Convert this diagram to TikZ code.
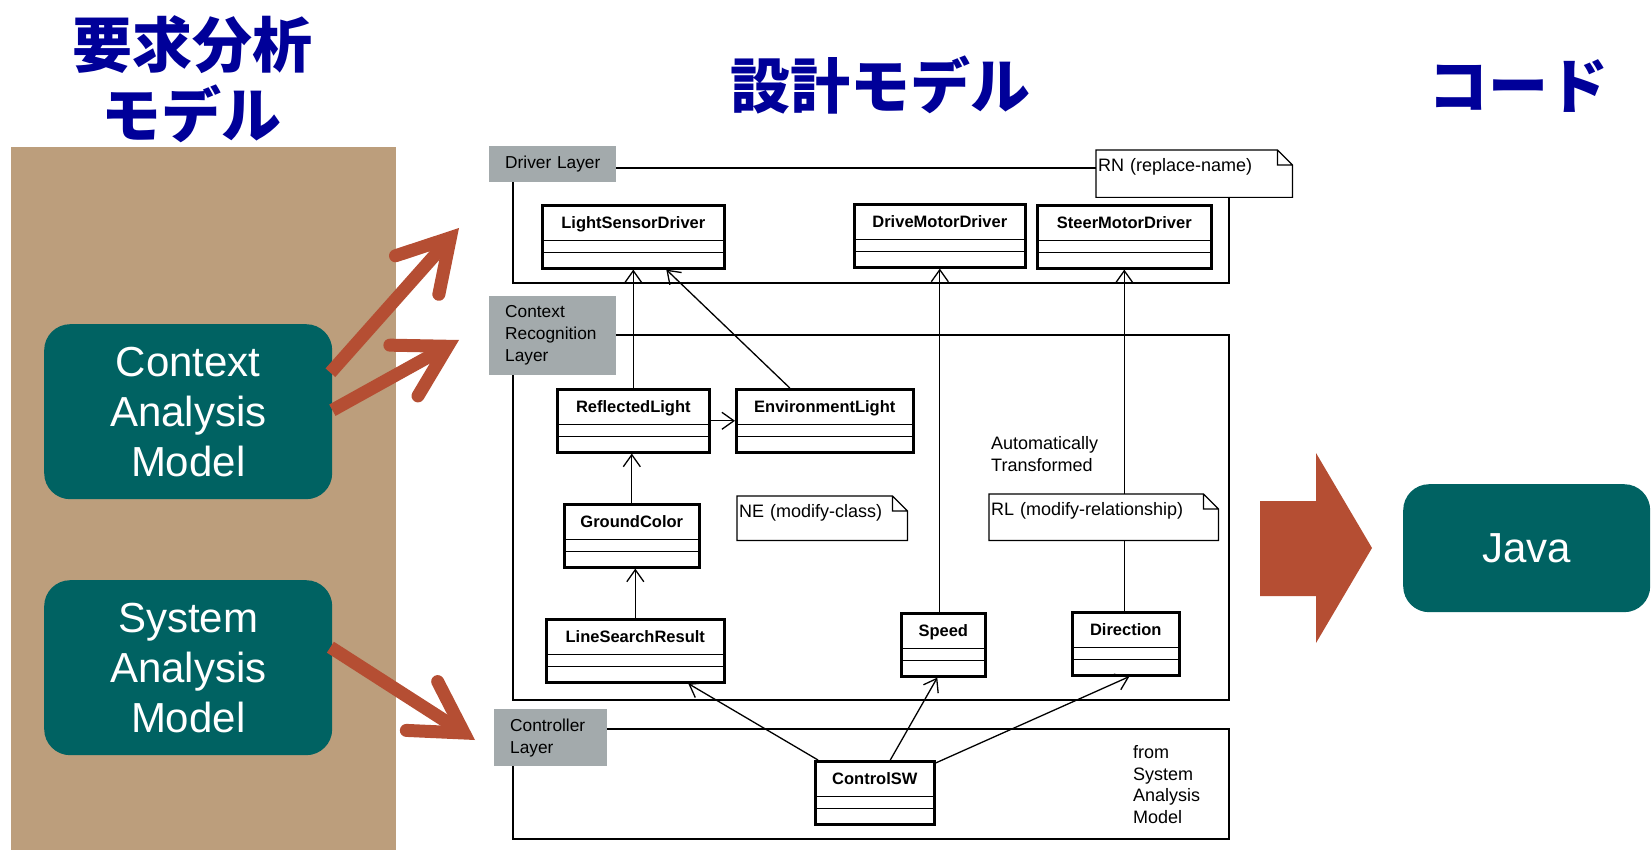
\documentclass[tikz,border=0pt]{standalone}
\usepackage{fontspec}
\setmainfont{Liberation Sans}
\newfontfamily\cjk{Noto Sans CJK JP}
\usetikzlibrary{arrows.meta,calc}

\definecolor{tanbg}{RGB}{188,158,124}
\definecolor{tealbox}{RGB}{0,98,98}
\definecolor{rustred}{RGB}{181,78,51}
\definecolor{titleblue}{RGB}{0,0,153}
\definecolor{tabgray}{RGB}{163,170,172}

\begin{document}
\begin{tikzpicture}[x=1pt,y=-1pt,
  title/.style={font=\cjk\bfseries\fontsize{60}{66}\selectfont, text=titleblue, anchor=base, inner sep=0},
  model/.style={fill=tealbox, rounded corners=26pt, text=white, align=center,
    font=\fontsize{42}{50}\selectfont, inner sep=0, anchor=north west},
  bigarrow/.style={draw=rustred, line width=13pt,
    -{Straight Barb[length=50pt, width=58pt, line cap=round, line join=miter]}},
  cls/.style={draw, line width=2.6pt, anchor=north west, inner sep=0,
    minimum height=63pt, text height=23pt, text depth=40pt,
    font=\bfseries\fontsize{16.5}{20}\selectfont,
    path picture={\draw[line width=1.5pt]
      ($(path picture bounding box.north west)+(0,35)$) -- ($(path picture bounding box.north east)+(0,35)$)
      ($(path picture bounding box.north west)+(0,47)$) -- ($(path picture bounding box.north east)+(0,47)$);}},
  conn/.style={line width=1.3pt, -{Straight Barb[length=12pt, width=17pt]}},
  frame/.style={line width=1.3pt},
  tab/.style={fill=tabgray, anchor=north west, inner xsep=16pt, inner ysep=0, align=left,
    font=\fontsize{17.3}{22}\selectfont},
  note/.style={fill=white, anchor=north west, inner xsep=2pt, inner ysep=0, align=left,
    text height=21pt, font=\fontsize{18}{21}\selectfont},
  noteline/.style={line width=1.2pt, line join=miter},
  plaintext/.style={inner sep=0, align=left, font=\fontsize{18}{21.8}\selectfont}
]
\useasboundingbox (0,0) rectangle (1652,850);

% left panel: requirement analysis models
\fill[tanbg] (11,147) rectangle (396,850);

% column titles
\node[title] (treq1) at (192,68) {要求分析};
\node[title] (treq2) at (191,138) {モデル};
\node[title] (tdes) at (880,109) {設計モデル};
\node[title] (tcode) at (1518,109) {コード};

% analysis models
\node[model, minimum width=288pt, minimum height=175pt] (cam) at (44,324) {Context\\Analysis\\Model};
\node[model, minimum width=288pt, minimum height=175pt] (sam) at (44,580) {System\\Analysis\\Model};

% layer tabs
\node[tab, minimum width=127pt, minimum height=36pt, text width=95pt] (dl) at (489,146) {\mbox{Driver Layer}};
\node[tab, minimum width=127pt, minimum height=79pt, text width=95pt] (crl) at (489,296) {Context\\Recognition\\Layer};
\node[tab, minimum width=113pt, minimum height=57pt, text width=81pt] (ctl) at (494,709) {Controller\\Layer};

% notes
\node[note, minimum width=196pt, text width=192pt, text depth=26pt] (rn) at (1096,150) {RN (replace-name)};
\node[note, minimum width=170pt, text width=166pt, text depth=23pt] (ne) at (737,496) {NE (modify-class)};

% layer frames
\draw[frame] (dl.north east |- 0,168) -- (rn.north west |- 0,168);
\draw[frame] (1229,197) -- (1229,283) -- (513,283) -- (dl.south -| 513,0);
\draw[frame] (crl.north east |- 0,335) -- (1229,335) -- (1229,700) -- (513,700) -- (crl.south -| 513,0);
\draw[frame] (ctl.north east |- 0,729) -- (1229,729) -- (1229,839) -- (513,839) -- (ctl.south -| 513,0);

% classes
\node[cls, minimum width=182pt] (lsd) at (541,204) {LightSensorDriver};
\node[cls, minimum width=171pt] (dmd) at (853,203) {DriveMotorDriver};
\node[cls, minimum width=174pt] (smd) at (1036,204) {SteerMotorDriver};
\node[cls, minimum width=152pt] (rfl) at (556,388) {ReflectedLight};
\node[cls, minimum width=177pt] (env) at (735,388) {EnvironmentLight};
\node[cls, minimum width=135pt] (gnd) at (563,503) {GroundColor};
\node[cls, minimum width=178pt] (lsr) at (545,618) {LineSearchResult};
\node[cls, minimum width=84pt] (spd) at (900,612) {Speed};
\node[cls, minimum width=107pt] (dir) at (1071,611) {Direction};
\node[cls, minimum width=119pt] (csw) at (814,760) {ControlSW};

% associations
\draw[conn] (rfl.north) -- (lsd.south);
\draw[conn] ([shift={(-35,0)}]env.north) -- ([shift={(33,0)}]lsd.south);
\draw[conn] (rfl.east) -- (env.west);
\draw[conn] (gnd.north) -- (gnd.north |- rfl.south);
\draw[conn] (lsr.north) -- (lsr.north |- gnd.south);
\draw[conn] (spd.north -| dmd.south) -- (dmd.south);
\draw[conn] (smd.south |- dir.north) -- (smd.south);
\draw[conn] ([shift={(4,0)}]csw.north west) -- ([shift={(53,0)}]lsr.south);
\draw[conn] ([shift={(15.5,0)}]csw.north) -- ([shift={(-6,0)}]spd.south);
\draw[conn] ([shift={(0,3)}]csw.north east) -- ([shift={(3.5,0)}]dir.south);

% note lying on the Direction association
\node[note, minimum width=229pt, text width=225pt, text depth=25pt] (rlnote) at (989,494) {RL (modify-relationship)};

% dog-eared note outlines
\foreach \n in {rn,ne,rlnote}{
  \draw[noteline] (\n.north west) -- ([shift={(-15,0)}]\n.north east) -- ([shift={(0,15)}]\n.north east)
    -- (\n.south east) -- (\n.south west) -- cycle
    ([shift={(-15,0)}]\n.north east) -- ([shift={(-15,15)}]\n.north east) -- ([shift={(0,15)}]\n.north east);
}

% free texts
\node[plaintext, anchor=west] (autotf) at (991,454) {Automatically\\Transformed};
\node[plaintext, anchor=west] (fromsam) at (1133,784.5) {from\\System\\Analysis\\Model};

% model-to-layer arrows
\coordinate (dlin) at (459,228);
\coordinate (crin) at (459,340);
\coordinate (ctin) at (475,740);
\draw[bigarrow] ([shift={(-2,-39)}]cam.east) -- (dlin);
\draw[bigarrow] ([shift={(0,-1.5)}]cam.east) -- (crin);
\draw[bigarrow] ([shift={(-2,-20.5)}]sam.east) -- (ctin);

% transformation to code
\fill[rustred] (1260,501) -- (1316,501) -- (1316,453) -- (1372,548) -- (1316,643) -- (1316,596) -- (1260,596) -- cycle;
\node[model, minimum width=247pt, minimum height=128pt] (java) at (1403,484) {Java};
\end{tikzpicture}
\end{document}
